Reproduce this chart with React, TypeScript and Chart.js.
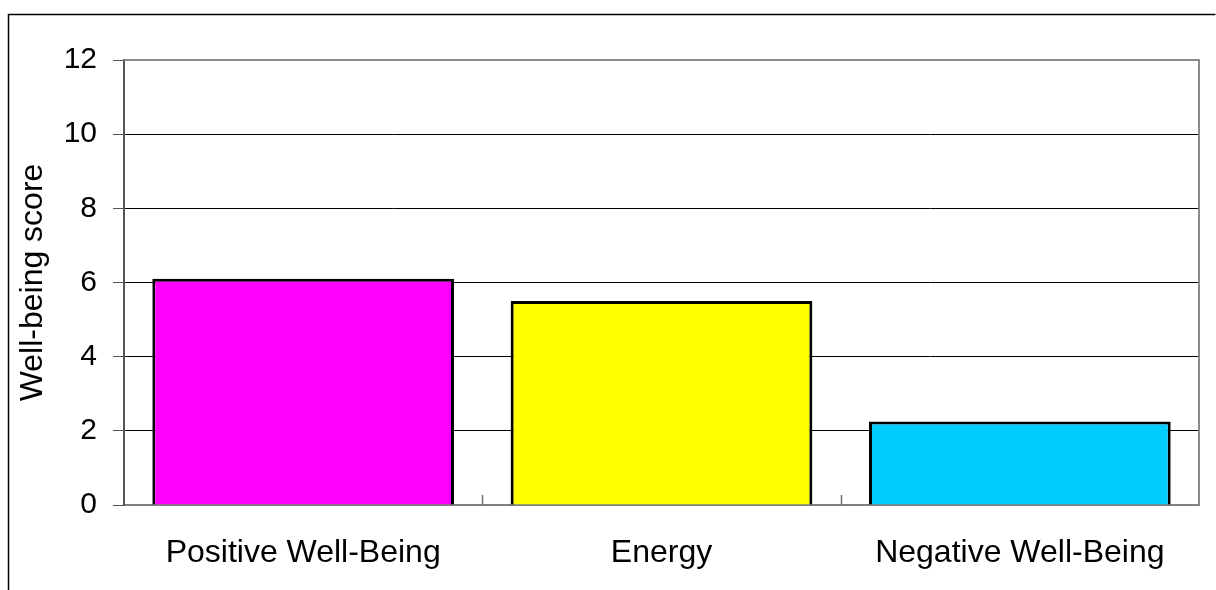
import React, { useEffect, useRef } from "react";
import { Chart, registerables } from "chart.js";

Chart.register(...registerables);

const categories = ["Positive Well-Being", "Energy", "Negative Well-Being"];
const scores = [6.1, 5.5, 2.25];
const barColors = ["#FF00FF", "#FFFF00", "#00CCFF"];
const yTitle = "Well-being score";
const yMin = 0;
const yMax = 12;
const yStep = 2;

const FONT = "'Liberation Sans', Arial, sans-serif";

const framePlugin = {
  id: "frame",
  beforeDraw(chart: any) {
    const ctx = chart.ctx;
    ctx.save();
    ctx.fillStyle = "#ffffff";
    ctx.fillRect(0, 0, chart.width, chart.height);
    ctx.strokeStyle = "#000000";
    ctx.lineWidth = 1.5;
    ctx.beginPath();
    ctx.moveTo(8.5, chart.height);
    ctx.lineTo(8.5, 14.5);
    ctx.lineTo(1215.5, 14.5);
    ctx.stroke();
    ctx.restore();
  },
  afterDatasetsDraw(chart: any) {
    const ctx = chart.ctx;
    const { left, top, right, bottom } = chart.chartArea;
    const xs = chart.scales.x;
    ctx.save();
    ctx.strokeStyle = "#8a8a8a";
    ctx.lineWidth = 2;
    ctx.beginPath();
    ctx.moveTo(left, top);
    ctx.lineTo(right, top);
    ctx.lineTo(right, bottom);
    ctx.stroke();
    ctx.lineWidth = 1.5;
    ctx.strokeStyle = "#707070";
    ctx.beginPath();
    for (let i = 1; i < categories.length; i++) {
      const x = Math.round((xs.getPixelForValue(i - 1) + xs.getPixelForValue(i)) / 2) + 0.5;
      ctx.moveTo(x, bottom);
      ctx.lineTo(x, bottom - 10);
    }
    ctx.stroke();
    ctx.restore();
  },
};

export default function App() {
  const ref = useRef<HTMLCanvasElement | null>(null);
  useEffect(() => {
    if (!ref.current) return;
    const chart = new Chart(ref.current, {
      type: "bar",
      data: {
        labels: categories,
        datasets: [
          {
            data: scores,
            backgroundColor: barColors,
            borderColor: "#000000",
            borderWidth: 3,
            barPercentage: 0.842,
            categoryPercentage: 1,
          },
        ],
      },
      options: {
        animation: false,
        responsive: false,
        devicePixelRatio: 1,
        events: [],
        layout: { padding: { left: 0, top: 60, right: 17, bottom: 0 } },
        plugins: {
          legend: { display: false },
          tooltip: { enabled: false },
        },
        scales: {
          x: {
            afterFit: (s: any) => {
              s.height = 85;
            },
            grid: { display: true, drawOnChartArea: false, drawTicks: false },
            border: { display: true, color: "#808080", width: 2 },
            ticks: {
              padding: 29,
              color: "#000000",
              font: { family: FONT, size: 32 },
              maxRotation: 0,
              autoSkip: false,
            },
          },
          y: {
            min: yMin,
            max: yMax,
            afterFit: (s: any) => {
              s.width = 124;
            },
            grid: {
              color: "#000000",
              lineWidth: 1,
              drawTicks: true,
              tickLength: 11,
              tickColor: "#555555",
            },
            border: { display: true, color: "#555555", width: 2 },
            ticks: {
              stepSize: yStep,
              padding: 16,
              color: "#000000",
              font: { family: FONT, size: 30 },
            },
            title: {
              display: true,
              text: yTitle,
              color: "#000000",
              font: { family: FONT, size: 32, lineHeight: 1.2 },
              padding: { top: 14, bottom: 0 },
            },
          },
        },
      },
      plugins: [framePlugin],
    });
    return () => chart.destroy();
  }, []);
  return (
    <div style={{ position: "absolute", left: 0, top: 0, width: 1216, height: 590 }}>
      <canvas ref={ref} width={1216} height={590} style={{ display: "block" }} />
    </div>
  );
}
